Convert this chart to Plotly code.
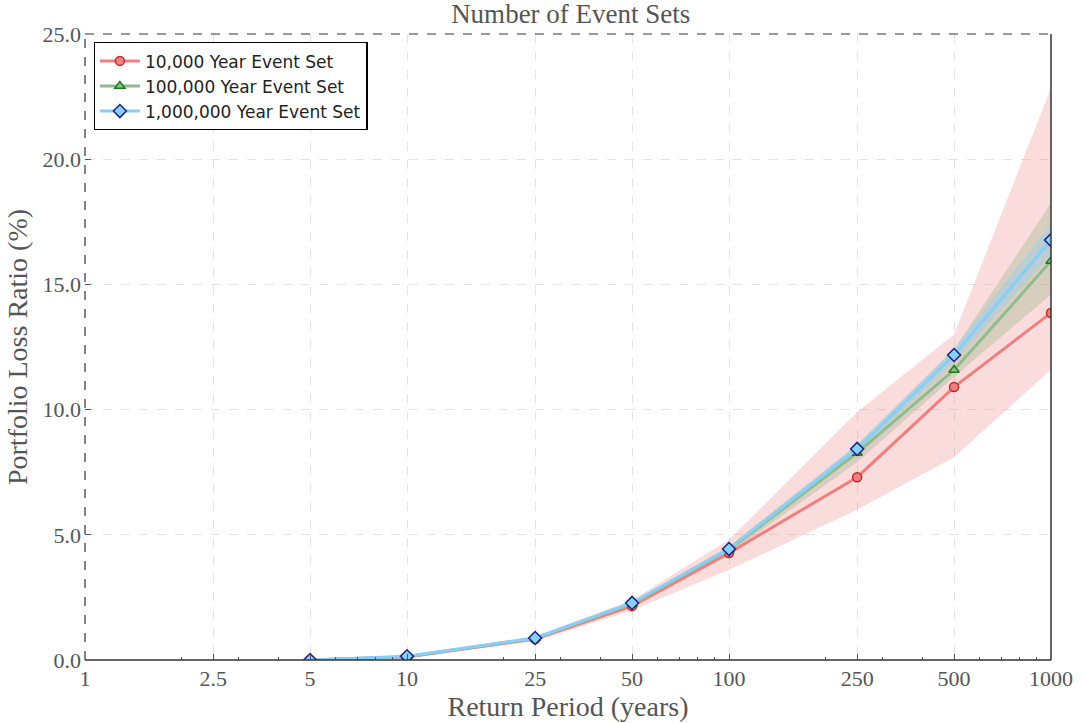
import plotly.graph_objects as go

return_periods = [5, 10, 25, 50, 100, 250, 500, 1000]
series_names = ["10,000 Year Event Set", "100,000 Year Event Set", "1,000,000 Year Event Set"]

loss_10k = [0.0, 0.12, 0.84, 2.15, 4.27, 7.30, 10.90, 13.86]
loss_100k = [0.0, 0.13, 0.87, 2.24, 4.40, 8.27, 11.58, 15.93]
loss_1m = [0.0, 0.15, 0.88, 2.28, 4.43, 8.43, 12.18, 16.77]

lower_10k = [0.0, 0.10, 0.75, 1.98, 3.60, 6.00, 8.10, 11.60]
upper_10k = [0.0, 0.16, 0.95, 2.40, 4.80, 9.90, 13.00, 22.84]
lower_100k = [0.0, 0.12, 0.84, 2.16, 4.25, 7.90, 11.30, 14.60]
upper_100k = [0.0, 0.15, 0.90, 2.32, 4.55, 8.60, 12.40, 18.25]
lower_1m = [0.0, 0.14, 0.86, 2.24, 4.36, 8.25, 11.90, 16.20]
upper_1m = [0.0, 0.16, 0.90, 2.32, 4.50, 8.60, 12.45, 17.40]

x_tick_vals = [1, 2.5, 5, 10, 25, 50, 100, 250, 500, 1000]
x_tick_text = ["1", "2.5", "5", "10", "25", "50", "100", "250", "500", "1000"]
y_tick_vals = [0, 5, 10, 15, 20, 25]

styles = [
    dict(line="#F08080", fill="rgba(240,128,128,0.28)", mfill="#F08080", medge="#C0282D", symbol="circle", size=9),
    dict(line="#8FBC8F", fill="rgba(150,180,140,0.35)", mfill="#8FBC8F", medge="#1E7B1E", symbol="triangle-up", size=9),
    dict(line="#87CEFA", fill="rgba(135,206,250,0.35)", mfill="#87CEFA", medge="#1A237E", symbol="diamond", size=10),
]

fig = go.Figure()
bands = [(lower_10k, upper_10k), (lower_100k, upper_100k), (lower_1m, upper_1m)]
for (lo, hi), st in zip(bands, styles):
    fig.add_trace(go.Scatter(x=return_periods, y=lo, mode="lines", line=dict(width=0),
                             showlegend=False, hoverinfo="skip"))
    fig.add_trace(go.Scatter(x=return_periods, y=hi, mode="lines", line=dict(width=0),
                             fill="tonexty", fillcolor=st["fill"], showlegend=False, hoverinfo="skip"))

for name, ys, st in zip(series_names, [loss_10k, loss_100k, loss_1m], styles):
    fig.add_trace(go.Scatter(
        x=return_periods, y=ys, mode="lines+markers", name=name,
        line=dict(color=st["line"], width=3),
        marker=dict(symbol=st["symbol"], size=st["size"], color=st["mfill"],
                    line=dict(color=st["medge"], width=1.5)),
    ))

serif = "Liberation Serif"
fig.update_layout(
    width=1083, height=723,
    margin=dict(l=85, r=32, t=34, b=63),
    plot_bgcolor="white", paper_bgcolor="white",
    title=dict(text="Number of Event Sets", x=0.527, xanchor="center", y=0.995, yanchor="top",
               font=dict(family=serif, size=27, color="#555555")),
    legend=dict(x=0.009, y=0.987, xanchor="left", yanchor="top", bgcolor="white",
                bordercolor="black", borderwidth=1.2, traceorder="normal",
                font=dict(family="DejaVu Sans", size=17, color="#222222"),
                tracegroupgap=0, itemwidth=40),
    xaxis=dict(type="log", range=[0, 3], tickvals=x_tick_vals, ticktext=x_tick_text,
               showgrid=True, gridcolor="#e3e3e3", griddash="dash", gridwidth=1,
               ticks="inside", ticklen=6, tickcolor="#555555", ticklabelstandoff=3,
               minor=dict(ticks="inside", ticklen=3, tickcolor="#555555", showgrid=False, dtick="D1"),
               tickfont=dict(family=serif, size=22, color="#555555"),
               title=dict(text="Return Period (years)", font=dict(family=serif, size=28, color="#555555"),
                          standoff=0),
               showline=False, zeroline=False, automargin=False),
    yaxis=dict(range=[0, 25], tickvals=y_tick_vals, tickformat=".1f",
               showgrid=True, gridcolor="#e3e3e3", griddash="dash", gridwidth=1,
               ticks="inside", ticklen=6, tickcolor="#555555", ticklabelstandoff=3,
               tickfont=dict(family=serif, size=22, color="#555555"),
               title=dict(text="Portfolio Loss Ratio (%)", font=dict(family=serif, size=28, color="#555555"),
                          standoff=6),
               showline=False, zeroline=False, automargin=False),
)

# spines: dashed top/left, solid bottom/right
fig.add_shape(type="line", xref="paper", yref="paper", x0=0, x1=0, y0=0, y1=1,
              line=dict(color="#333333", width=1.2, dash="dash"))
fig.add_shape(type="line", xref="paper", yref="paper", x0=0, x1=1, y0=1, y1=1,
              line=dict(color="#333333", width=1.2, dash="dash"))
fig.add_shape(type="line", xref="paper", yref="paper", x0=0, x1=1, y0=0, y1=0,
              line=dict(color="#333333", width=1.5))
fig.add_shape(type="line", xref="paper", yref="paper", x0=1, x1=1, y0=0, y1=1,
              line=dict(color="#333333", width=1.5))

fig.write_html("out.html", config={"displayModeBar": False},
               post_script="document.body.style.margin='0';")
